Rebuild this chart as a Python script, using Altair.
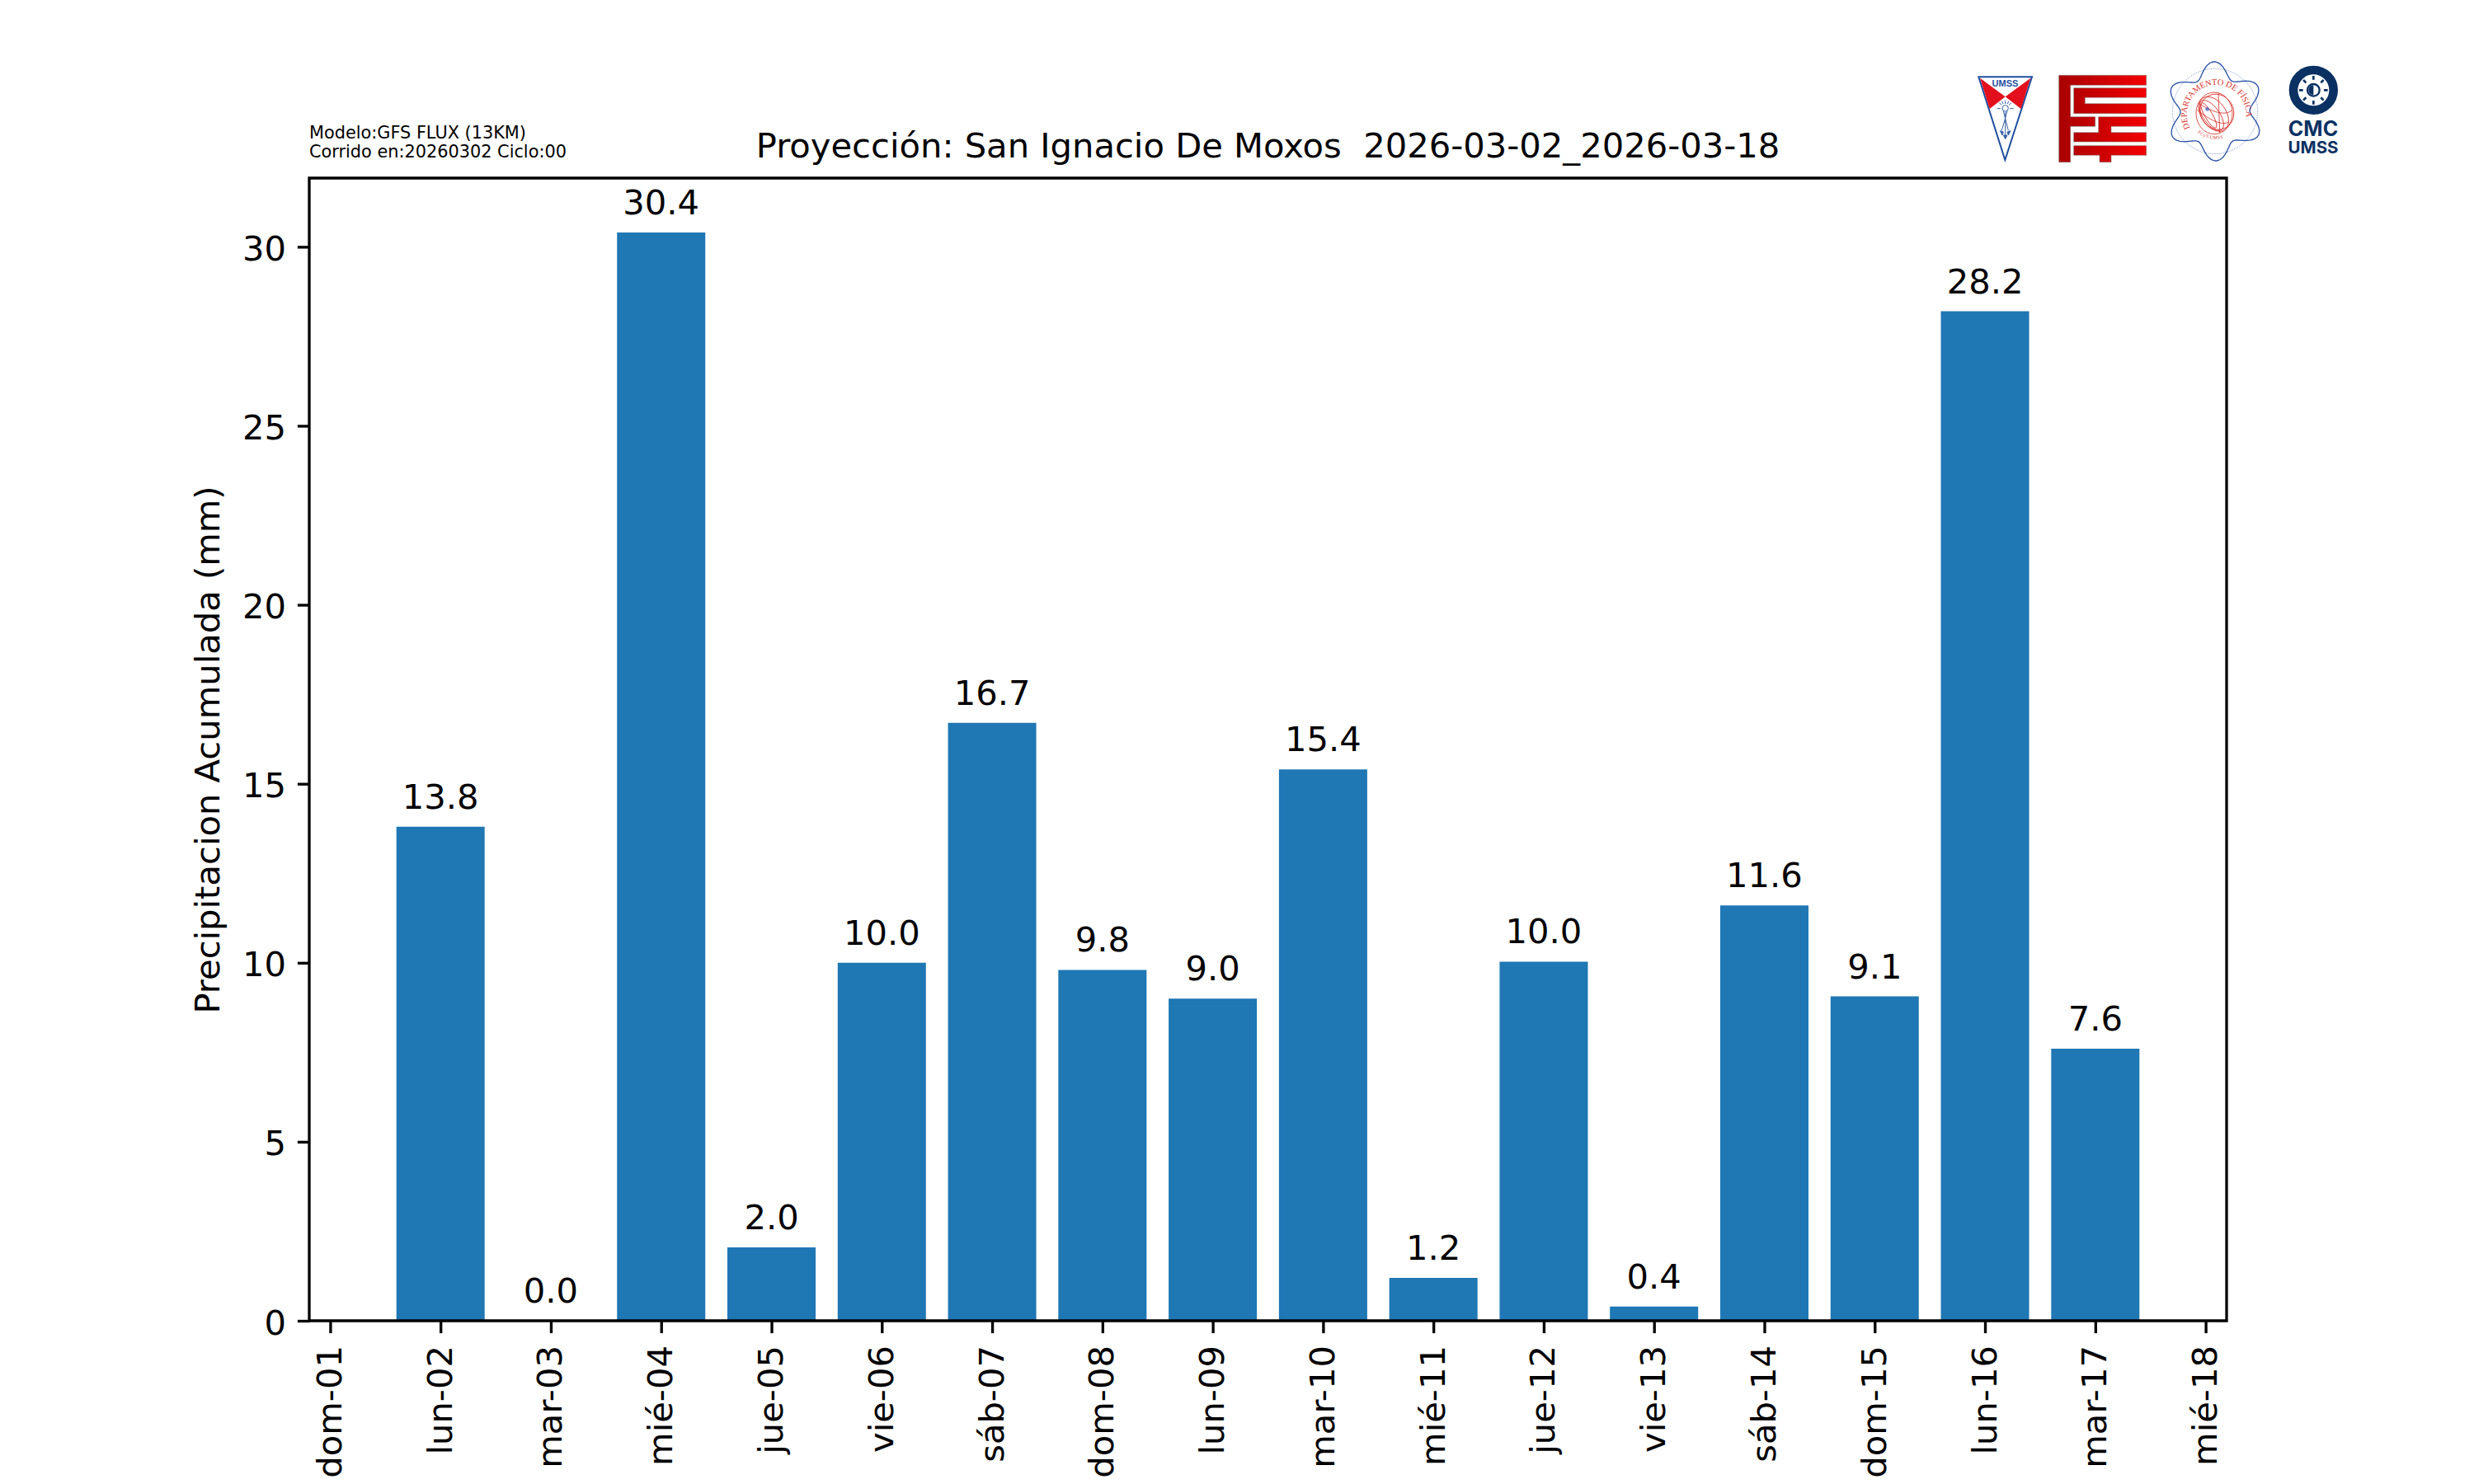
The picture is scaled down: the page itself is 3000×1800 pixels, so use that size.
import math
from urllib.parse import quote
import altair as alt
import pandas as pd

# ---------- data ----------
tick_days = list(range(18))
tick_labels = ["dom-01", "lun-02", "mar-03", "mié-04", "jue-05", "vie-06", "sáb-07", "dom-08", "lun-09",
               "mar-10", "mié-11", "jue-12", "vie-13", "sáb-14", "dom-15", "lun-16", "mar-17", "mié-18"]
bar_days = list(range(1, 17))
precip = [13.8, 0.0, 30.4, 2.05, 10.0, 16.7, 9.8, 9.0, 15.4, 1.2, 10.03, 0.4, 11.6, 9.06, 28.2, 7.6]
y_ticks = [0, 5, 10, 15, 20, 25, 30]
title = "Proyección: San Ignacio De Moxos \u00a02026-03-02_2026-03-18"
model_lines = ["Modelo:GFS FLUX (13KM)", "Corrido en:20260302 Ciclo:00"]

# ---------- geometry of the page ----------
L, T, R, B = 375, 216, 2700, 1602
W, H = R - L, B - T
FONT = "DejaVu Sans"
BLACK = "#000000"
LW = 3.33


def px(v):
    return v - L


def py(v):
    return v - T


df = pd.DataFrame({"day": bar_days, "v": precip})
df["start"] = df["day"] - 0.4
df["end"] = df["day"] + 0.4

x_scale = alt.Scale(domain=[-0.19, 17.19], nice=False, zero=False)
y_scale = alt.Scale(domain=[0, 31.92], nice=False, zero=True)

label_expr = "[" + ",".join(f"'{t}'" for t in tick_labels) + "][datum.value]"

bars = alt.Chart(df).mark_bar(color="#1f77b4", stroke=None, strokeWidth=0).encode(
    x=alt.X("start:Q", scale=x_scale, axis=alt.Axis(
        values=tick_days, labelExpr=label_expr, title=None, grid=False, domain=False,
        tickSize=14.6, tickWidth=LW, tickColor=BLACK, labelColor=BLACK, labelFont=FONT,
        labelFontSize=41.67, labelAngle=270, labelPadding=15, labelOverlap=False,
        labelBound=False, labelFlush=False, tickRound=False)),
    x2="end:Q",
    y=alt.Y("v:Q", scale=y_scale, axis=alt.Axis(
        values=y_ticks, format="d", title="Precipitacion Acumulada (mm)", grid=False, domain=False,
        tickSize=14.6, tickWidth=LW, tickColor=BLACK, labelColor=BLACK, labelFont=FONT,
        labelFontSize=41.67, labelPadding=14, labelOffset=3, titleFont=FONT, titleFontSize=41.67,
        titleFontWeight="normal", titleColor=BLACK, titlePadding=19, tickRound=False)),
    y2=alt.value(H),
)

labels = alt.Chart(df).mark_text(
    font=FONT, fontSize=41.67, color=BLACK, align="center", baseline="alphabetic", dy=-22
).encode(
    x=alt.X("day:Q", scale=x_scale),
    y=alt.Y("v:Q", scale=y_scale),
    text=alt.Text("v:Q", format=".1f"),
)

one = pd.DataFrame({"a": [0]})

frame = alt.Chart(one).mark_rect(fill=None, stroke=BLACK, strokeWidth=LW).encode(
    x=alt.value(0), x2=alt.value(W), y=alt.value(0), y2=alt.value(H)
)


def text_mark(txt, x, y, size, font=FONT, weight="normal", color=BLACK, align="left"):
    return alt.Chart(one).mark_text(
        text=txt, font=font, fontSize=size, fontWeight=weight, color=color, align=align, baseline="alphabetic"
    ).encode(x=alt.value(px(x)), y=alt.value(py(y)))


title_mark = text_mark(title, 1537.5, 191, 41.67, align="center")
model_1 = text_mark(model_lines[0], 375, 168, 20.83)
model_2 = text_mark(model_lines[1], 375, 190.7, 20.83)

# ---------- logos (drawn as inline SVG, coordinates are 3x the page pixels) ----------
BLUE = "#2a52a8"
logo_a = f"""<svg xmlns='http://www.w3.org/2000/svg' width='675' height='420' viewBox='0 0 675 420'>
<defs><linearGradient id='g' x1='320' x2='640' y1='0' y2='0' gradientUnits='userSpaceOnUse'>
<stop offset='0' stop-color='#a80000'/><stop offset='1' stop-color='#f40000'/></linearGradient></defs>
<polygon points='28,10 222,10 124,312' fill='#fff' stroke='#1f4fa0' stroke-width='6'/>
<polygon points='33,14 125,82 68,126' fill='#e30f1c'/>
<polygon points='217,14 125,82 182,126' fill='#e30f1c'/>
<g stroke='#3a62a8' stroke-width='3' fill='none'>
<circle cx='125' cy='124' r='11'/>
<path d='M118,134 L136,205 M132,134 L112,205 M125,136 L125,230'/>
<path d='M95,125 L108,125 M142,125 L155,125 M103,104 L112,112 M147,104 L138,112 M125,95 L125,108 M113,98 L117,108 M137,98 L133,108'/>
<path d='M106,206 L114,222 L118,210 Z M144,206 L136,222 L132,210 Z M118,222 L125,236 L132,222 Z' fill='#3a62a8'/>
</g>
<g fill='url(#g)' stroke='#777' stroke-width='1.5'>
<path d='M320,4 L638,4 L638,40 L362,40 L362,155 L452,155 L452,190 L362,190 L362,320 L320,320 Z'/>
<path d='M374,50 L638,50 L638,85 L415,85 L415,107 L638,107 L638,143 L374,143 Z'/>
<path d='M464,155 L638,155 L638,190 L510,190 L510,212 L638,212 L638,246 L374,246 L374,212 L464,212 Z'/>
<path d='M374,260 L638,260 L638,295 L510,295 L510,320 L468,320 L468,295 L374,295 Z'/>
</g></svg>"""

cx, cy = 183, 195
pts = []
for i in range(241):
    th = 2 * math.pi * i / 240
    r = 153 + 27 * math.cos(6 * (th - math.radians(-91)))
    pts.append(f"{cx + r * math.cos(th):.1f},{cy + r * math.sin(th):.1f}")
rays = ""
for k in range(8):
    a = k * math.pi / 4
    rays += (f"M{541 + 38 * math.cos(a):.1f},{118 + 38 * math.sin(a):.1f} "
             f"L{541 + 52 * math.cos(a):.1f},{118 + 52 * math.sin(a):.1f} ")
logo_b = f"""<svg xmlns='http://www.w3.org/2000/svg' width='675' height='465' viewBox='0 0 675 465'>
<defs>
<path id='top' d='M 92,256 A 108,108 0 1 1 284,256'/>
<path id='bot' d='M 118,272 A 105,105 0 0 0 250,274'/>
</defs>
<polygon points='{" ".join(pts)}' fill='none' stroke='{BLUE}' stroke-width='4'/>
<circle cx='{cx}' cy='{cy}' r='155' fill='none' stroke='{BLUE}' stroke-width='2' stroke-dasharray='3 4'/>
<g fill='none' stroke='#d8302a' stroke-width='2.5'>
<ellipse cx='180' cy='202' rx='66' ry='76'/>
<ellipse cx='190' cy='197' rx='60' ry='66' transform='rotate(-30 190 197)'/>
<ellipse cx='178' cy='205' rx='45' ry='70' transform='rotate(-35 178 205)'/>
<ellipse cx='170' cy='210' rx='30' ry='64' transform='rotate(-35 170 210)'/>
<ellipse cx='160' cy='210' rx='14' ry='52' transform='rotate(-30 160 210)'/>
<path d='M118,190 C150,215 200,250 232,235 M130,170 C170,195 220,215 245,190 M195,130 L200,275'/>
</g>
<circle cx='155' cy='187' r='7' fill='#6f7cc4'/>
<g font-family='Liberation Serif' fill='#d8302a'>
<text font-size='31'><textPath href='#top' startOffset='0'>DEPARTAMENTO DE FÍSICA</textPath></text>
<text font-size='17' letter-spacing='1'><textPath href='#bot' startOffset='2'>FCyT-UMSS</textPath></text>
</g>
<circle cx='541' cy='118' r='73' fill='none' stroke='#0b3163' stroke-width='32'/>
<circle cx='541' cy='118' r='22' fill='none' stroke='#0b3163' stroke-width='7'/>
<path d='M541,100 A18,18 0 0 0 541,136 Z' fill='#0b3163'/>
<path d='{rays}' stroke='#0b3163' stroke-width='8' fill='none'/>
</svg>"""


def image_mark(svg, x, y, w, h):
    uri = "data:image/svg+xml;charset=utf-8," + quote(svg)
    return alt.Chart(one).mark_image(url=uri, width=w, height=h, align="left", baseline="top", aspect=False).encode(
        x=alt.value(px(x)), y=alt.value(py(y))
    )


img_a = image_mark(logo_a, 2390, 90, 225, 140)
img_b = image_mark(logo_b, 2625, 70, 225, 155)
umss_1 = text_mark("UMSS", 2431.5, 105, 11, font="Liberation Sans", weight="bold", color="#1f4fa0", align="center")
cmc = text_mark("CMC", 2805, 165, 25, font="Inter", weight="bold", color="#0b3163", align="center")
umss_2 = text_mark("UMSS", 2805, 186, 20.5, font="Inter", weight="bold", color="#0b3163", align="center")

chart = alt.layer(
    bars, labels, frame, title_mark, model_1, model_2, img_a, img_b, umss_1, cmc, umss_2
).properties(
    width=W,
    height=H,
    padding={"left": L - 8, "top": T - 8, "right": 3000 - R - 8, "bottom": 192},
    autosize=alt.AutoSizeParams(type="none"),
    background="#ffffff",
).configure_view(stroke=None)

chart.save("out.html", embed_options={"renderer": "svg", "actions": False})
